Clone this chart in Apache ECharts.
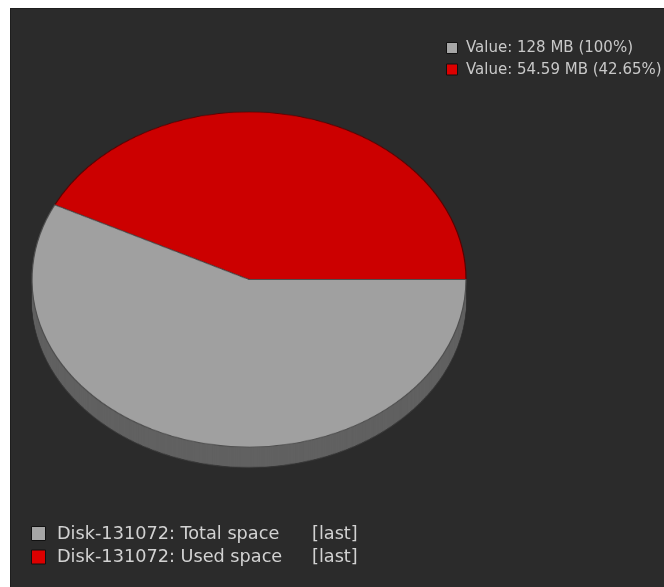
<!DOCTYPE html>
<html>
<head>
<meta charset="utf-8">
<script src="https://cdn.jsdelivr.net/npm/echarts@6/dist/echarts.min.js"></script>
<style>
html,body{margin:0;padding:0;background:#ffffff;width:664px;height:587px;overflow:hidden;}
#base{position:absolute;left:0;top:0;width:664px;height:587px;}
#pie{position:absolute;left:0;top:0;width:664px;height:587px;pointer-events:none;}
</style>
</head>
<body>
<div id="base"></div>
<div id="pie"></div>
<script>
// ---- data ----
const itemNames = ['Disk-131072: Total space', 'Disk-131072: Used space'];
const itemFunc = ['[last]', '[last]'];
const totalMB = 128;
const usedMB = 54.59;
const usedPct = 42.65;
const faceColors = ['#a0a0a0', '#cc0000'];
const sideColors = ['#616161', '#616161'];
const borderColors = ['#4e4e4e', '#5a0000'];
const legendColors = ['#a6a6a6', '#dd0000'];

// ---- geometry ----
const cx = 249, cy = 279.5, rx = 217, ry = 167.5, depth = 20.5;
const sy = ry / rx;

// pie slices: used (red) and remaining (gray), counterclockwise from 3 o'clock
function sliceData(colors, borders, bw) {
  return [
    {name: 'used', value: usedMB, itemStyle: {color: colors[1], borderColor: borders ? borders[1] : colors[1], borderWidth: bw}},
    {name: 'free', value: totalMB - usedMB, itemStyle: {color: colors[0], borderColor: borders ? borders[0] : colors[0], borderWidth: bw}}
  ];
}

const pieSeries = [];
const depthPre = depth / sy;
// bottom outline
pieSeries.push({
  type: 'pie', silent: true, animation: false, clockwise: false, startAngle: 0,
  center: [cx, cy + depthPre], radius: rx, label: {show: false}, labelLine: {show: false},
  data: sliceData(sideColors, ['#383838', '#383838'], 1.3)
});
for (let k = depthPre - 1; k > 0; k -= 1) {
  pieSeries.push({
    type: 'pie', silent: true, animation: false, clockwise: false, startAngle: 0,
    center: [cx, cy + k], radius: rx, label: {show: false}, labelLine: {show: false},
    data: sliceData(sideColors, null, 0)
  });
}
pieSeries.push({
  type: 'pie', silent: true, animation: false, clockwise: false, startAngle: 0,
  center: [cx, cy], radius: rx, label: {show: false}, labelLine: {show: false},
  data: sliceData(faceColors, borderColors, 1.2)
});

const pieDiv = document.getElementById('pie');
pieDiv.style.transformOrigin = cx + 'px ' + cy + 'px';
pieDiv.style.transform = 'scaleY(' + sy + ')';

// ---- base chart: background + legends ----
const topLegend = [
  'Value: ' + totalMB + ' MB (100%)',
  'Value: ' + usedMB + ' MB (' + usedPct + '%)'
];
const graphics = [
  {type: 'rect', shape: {x: 10, y: 8, width: 660, height: 590}, style: {fill: '#1e1e1e'}, silent: true},
  {type: 'rect', shape: {x: 11, y: 9, width: 660, height: 590}, style: {fill: '#2b2b2b'}, silent: true}
];
topLegend.forEach((t, i) => {
  const y = 48.5 + i * 21.5;
  graphics.push({type: 'rect', shape: {x: 446.5, y: y - 6, width: 11, height: 11},
    style: {fill: legendColors[i], stroke: '#111', lineWidth: 1}, silent: true});
  graphics.push({type: 'text', x: 466, y: y, silent: true,
    style: {text: t, fill: '#c8c8c8', font: '15px "DejaVu Sans"', textVerticalAlign: 'middle', textBaseline: 'middle'}});
});
itemNames.forEach((t, i) => {
  const y = 534 + i * 23.5;
  graphics.push({type: 'rect', shape: {x: 31.5, y: y - 7.5, width: 14, height: 14},
    style: {fill: legendColors[i], stroke: '#111', lineWidth: 1}, silent: true});
  graphics.push({type: 'text', x: 57, y: y, silent: true,
    style: {text: t, fill: '#d2d2d2', font: '17.7px "DejaVu Sans"', textVerticalAlign: 'middle', textBaseline: 'middle'}});
  graphics.push({type: 'text', x: 312, y: y, silent: true,
    style: {text: itemFunc[i], fill: '#d2d2d2', font: '17.7px "DejaVu Sans"', textVerticalAlign: 'middle', textBaseline: 'middle'}});
});

const base = echarts.init(document.getElementById('base'), null, {renderer: 'canvas'});
base.setOption({animation: false, backgroundColor: '#ffffff', graphic: graphics});

const pie = echarts.init(pieDiv, null, {renderer: 'canvas'});
pie.setOption({animation: false, backgroundColor: 'transparent', series: pieSeries});
</script>
</body>
</html>
